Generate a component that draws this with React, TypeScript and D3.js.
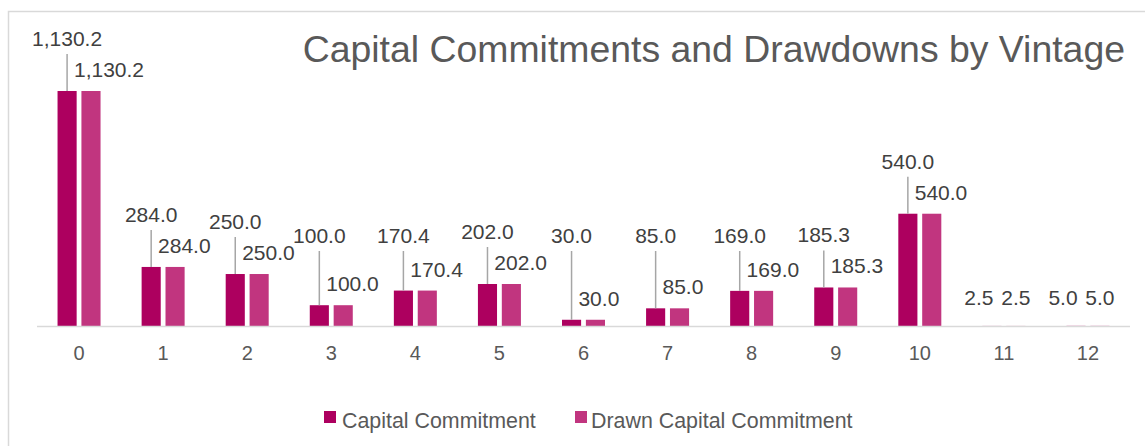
import * as d3 from "d3";

const categories = ["0", "1", "2", "3", "4", "5", "6", "7", "8", "9", "10", "11", "12"];
const capitalCommitment = [1130.2, 284.0, 250.0, 100.0, 170.4, 202.0, 30.0, 85.0, 169.0, 185.3, 540.0, 2.5, 5.0];
const drawnCapitalCommitment = [1130.2, 284.0, 250.0, 100.0, 170.4, 202.0, 30.0, 85.0, 169.0, 185.3, 540.0, 2.5, 5.0];
const seriesNames = ["Capital Commitment", "Drawn Capital Commitment"];
const colors = ["#AD005F", "#C1357F"];

const font = "'Liberation Sans', Arial, sans-serif";

export default function App() {
    const width = 1145;
    const height = 446;
    const baseY = 326;
    const plotLeft = 37;
    const plotRight = 1130;

    const fmt = d3.format(",.1f");
    const maxV = d3.max([...capitalCommitment, ...drawnCapitalCommitment]) ?? 1;

    const x0 = d3.scaleBand().domain(categories).range([plotLeft, plotRight]);
    const groupW = 43;
    const x1 = d3.scaleBand().domain(seriesNames).range([0, groupW]).paddingInner(0.2);
    const y = d3.scaleLinear().domain([0, maxV]).range([baseY, 91]);

    const series = [capitalCommitment, drawnCapitalCommitment];

    return (
        <svg width={width} height={height} style={{ position: "absolute", left: 0, top: 0 }}>
            <rect x={0} y={0} width={width} height={height} fill="#fff" />
            <rect x={8.5} y={11.5} width={1300} height={600} fill="none" stroke="#d9d9d9" strokeWidth={1.5} />
            <text x={1125} y={62} textAnchor="end" fontFamily={font} fontSize={37.4} fill="#595959">
                Capital Commitments and Drawdowns by Vintage
            </text>

            {series.map((vals, si) => (
                <g key={`s-${si}`}>
                    {categories.map((c, i) => {
                        const bx = (x0(c) ?? 0) + x0.bandwidth() / 2 - groupW / 2 + (x1(seriesNames[si]) ?? 0);
                        const top = y(vals[i]);
                        return (
                            <rect key={`b-${si}-${c}`} x={bx} y={top} width={x1.bandwidth()}
                                height={Math.max(0, baseY - top)} fill={colors[si]}
                                fillOpacity={vals[i] < 10 ? 0.15 : 1} />
                        );
                    })}
                </g>
            ))}

            <line x1={plotLeft} x2={plotRight} y1={baseY + 0.5} y2={baseY + 0.5} stroke="#d9d9d9" strokeWidth={1.5} />

            {categories.map((c) => (
                <text key={`t-${c}`} x={(x0(c) ?? 0) + x0.bandwidth() / 2} y={360} textAnchor="middle"
                    fontFamily={font} fontSize={20} fill="#595959">{c}</text>
            ))}

            {categories.map((c, i) => {
                const cx = (x0(c) ?? 0) + x0.bandwidth() / 2 - groupW / 2;
                const c1 = cx + (x1(seriesNames[0]) ?? 0) + x1.bandwidth() / 2;
                const c2 = cx + (x1(seriesNames[1]) ?? 0) + x1.bandwidth() / 2;
                const v1 = capitalCommitment[i];
                const v2 = drawnCapitalCommitment[i];
                const t1 = y(v1);
                const t2 = y(v2);
                if (v1 < 10) {
                    return (
                        <g key={`l-${c}`} fontFamily={font} fontSize={21} fill="#404040">
                            <text x={c1 - 13} y={t1 - 20} textAnchor="middle">{fmt(v1)}</text>
                            <text x={c2} y={t2 - 20} textAnchor="middle">{fmt(v2)}</text>
                        </g>
                    );
                }
                const ly = Math.min(t1 - 45, 243);
                return (
                    <g key={`l-${c}`} fontFamily={font} fontSize={21} fill="#404040">
                        <line x1={c1} x2={c1} y1={ly + 8} y2={t1} stroke="#a6a6a6" strokeWidth={1.5} />
                        <text x={c1} y={ly} textAnchor="middle">{fmt(v1)}</text>
                        <text x={c2 - 17} y={t2 - 14}>{fmt(v2)}</text>
                    </g>
                );
            })}

            <g fontFamily={font} fontSize={21.4} fill="#595959">
                <rect x={324} y={411} width={12} height={12} fill={colors[0]} />
                <text x={342} y={428}>{seriesNames[0]}</text>
                <rect x={575} y={411} width={12} height={12} fill={colors[1]} />
                <text x={591} y={428}>{seriesNames[1]}</text>
            </g>
        </svg>
    );
}
